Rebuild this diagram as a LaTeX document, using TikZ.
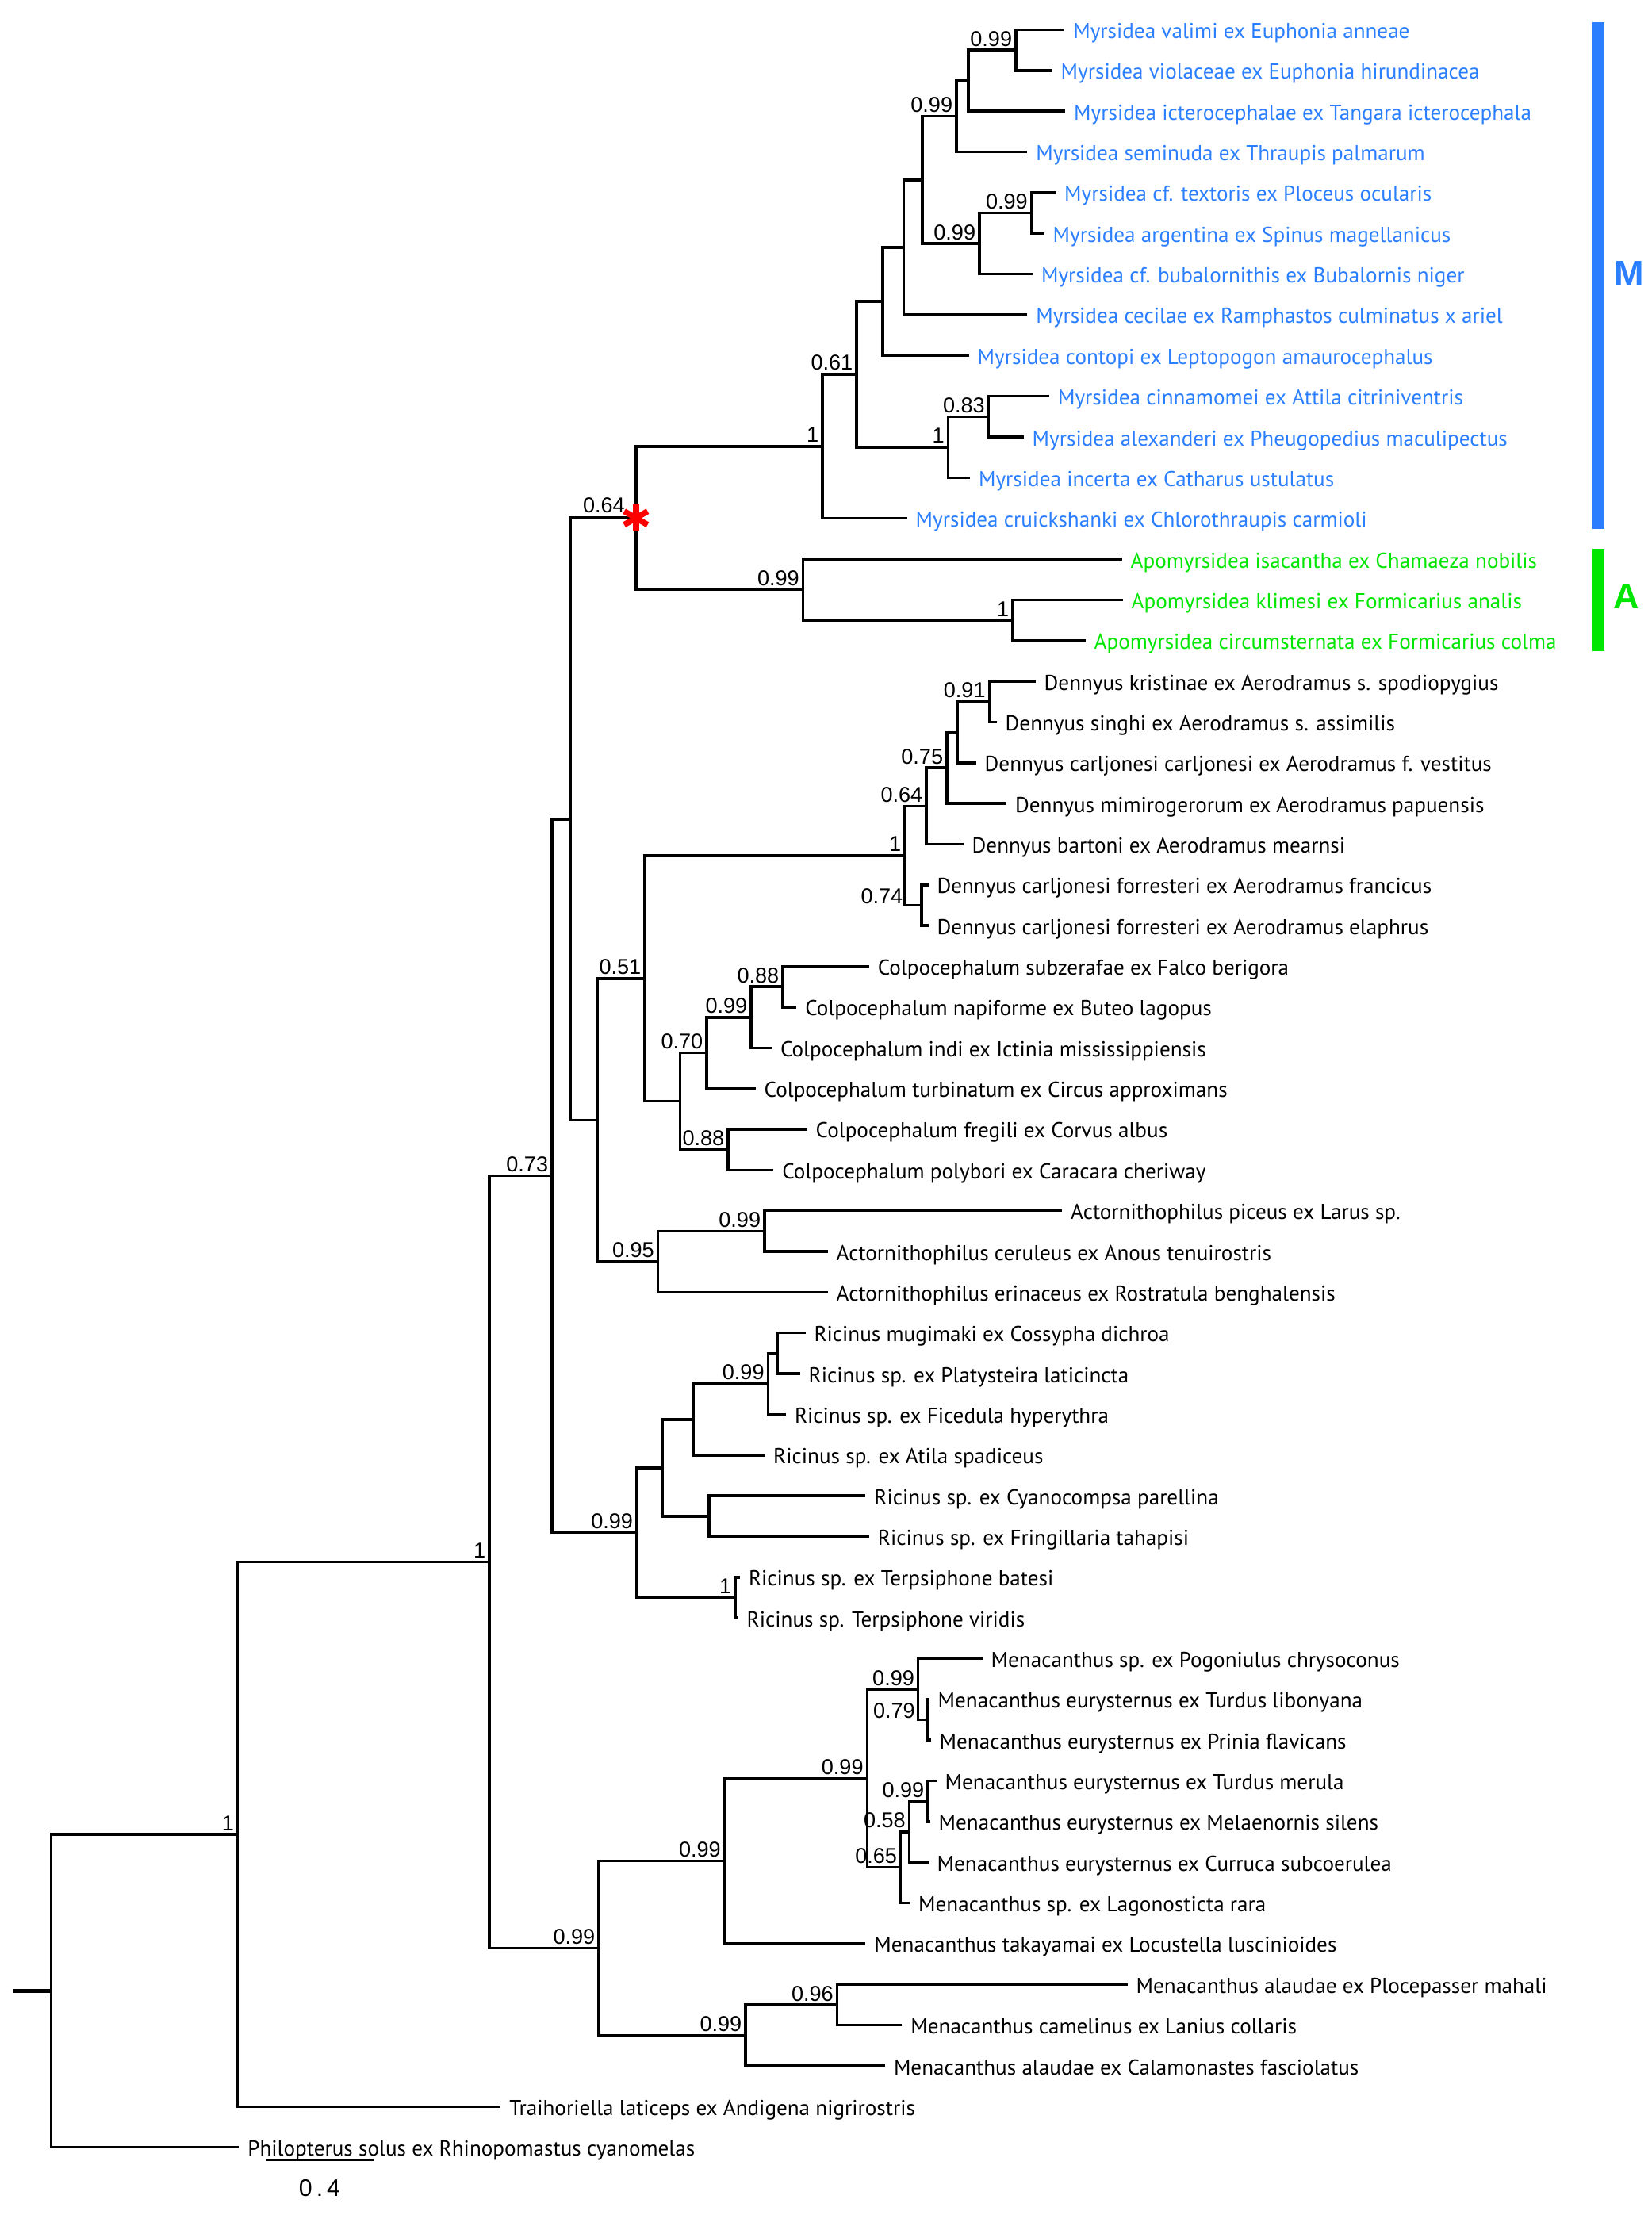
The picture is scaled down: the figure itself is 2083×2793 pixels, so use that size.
\documentclass[tikz,border=0pt]{standalone}
\usepackage{fontspec}
\setmainfont{PT Sans}
\newfontfamily\numfont{Liberation Sans}
\usetikzlibrary{calc}
\definecolor{mblue}{HTML}{2B7FFF}
\definecolor{agreen}{HTML}{00E600}
\tikzset{
 branch/.style={line width=1.0pt, line cap=rect, line join=miter},
 leaflab/.style={font=\fontsize{7.72}{8}\selectfont, anchor=base west, inner sep=0pt},
 supp/.style={font=\numfont\fontsize{7.7}{8}\selectfont, anchor=base east, inner sep=0pt},
 mcol/.style={text=mblue}, acol/.style={text=agreen},
 redstar/.style={red, line width=2.1pt},
 grouplab/.style={font=\numfont\bfseries\fontsize{12.8}{13}\selectfont},
}
\newcommand\tleaf[5][]{\coordinate (#2) at (#3,#4); \node[leaflab,#1] (#2lab) at ([shift={(12,11)}]#2) {#5};}
\newcommand\clade[3]{\draw[branch] (#2) -| (#1) |- (#3);}
\newcommand\bsup[2]{\node[supp] (s#1) at ([shift={(-4,-5)}]#1) {#2};}
\begin{document}
\begin{tikzpicture}[x=0.01cm,y=-0.01cm]
\useasboundingbox (0,0) rectangle (2083,2793);
% leaves
\tleaf[mcol]{l1}{1340.6}{37.5}{Myrsidea valimi ex Euphonia anneae}
\tleaf[mcol]{l2}{1325}{88.85}{Myrsidea violaceae ex Euphonia hirundinacea}
\tleaf[mcol]{l3}{1341.5}{140.2}{Myrsidea icterocephalae ex Tangara icterocephala}
\tleaf[mcol]{l4}{1293.7}{191.55}{Myrsidea seminuda ex Thraupis palmarum}
\tleaf[mcol]{l5}{1329.5}{242.9}{Myrsidea cf. textoris ex Ploceus ocularis}
\tleaf[mcol]{l6}{1315}{294.25}{Myrsidea argentina ex Spinus magellanicus}
\tleaf[mcol]{l7}{1300.4}{345.6}{Myrsidea cf. bubalornithis ex Bubalornis niger}
\tleaf[mcol]{l8}{1293.7}{396.95}{Myrsidea cecilae ex Ramphastos culminatus x ariel}
\tleaf[mcol]{l9}{1220}{448.3}{Myrsidea contopi ex Leptopogon amaurocephalus}
\tleaf[mcol]{l10}{1321.4}{499.65}{Myrsidea cinnamomei ex Attila citriniventris}
\tleaf[mcol]{l11}{1289}{551.0}{Myrsidea alexanderi ex Pheugopedius maculipectus}
\tleaf[mcol]{l12}{1221.4}{602.35}{Myrsidea incerta ex Catharus ustulatus}
\tleaf[mcol]{l13}{1142}{653.7}{Myrsidea cruickshanki ex Chlorothraupis carmioli}
\tleaf[acol]{l14}{1413}{705.05}{Apomyrsidea isacantha ex Chamaeza nobilis}
\tleaf[acol]{l15}{1414}{756.4}{Apomyrsidea klimesi ex Formicarius analis}
\tleaf[acol]{l16}{1367}{807.75}{Apomyrsidea circumsternata ex Formicarius colma}
\tleaf{l17}{1304}{859.1}{Dennyus kristinae ex Aerodramus s. spodiopygius}
\tleaf{l18}{1255}{910.45}{Dennyus singhi ex Aerodramus s. assimilis}
\tleaf{l19}{1229}{961.8}{Dennyus carljonesi carljonesi ex Aerodramus f. vestitus}
\tleaf{l20}{1267.4}{1013.15}{Dennyus mimirogerorum ex Aerodramus papuensis}
\tleaf{l21}{1213}{1064.5}{Dennyus bartoni ex Aerodramus mearnsi}
\tleaf{l22}{1168.8}{1115.85}{Dennyus carljonesi forresteri ex Aerodramus francicus}
\tleaf{l23}{1168.8}{1167.2}{Dennyus carljonesi forresteri ex Aerodramus elaphrus}
\tleaf{l24}{1094.2}{1218.55}{Colpocephalum subzerafae ex Falco berigora}
\tleaf{l25}{1002.7}{1269.9}{Colpocephalum napiforme ex Buteo lagopus}
\tleaf{l26}{971.4}{1321.25}{Colpocephalum indi ex Ictinia mississippiensis}
\tleaf{l27}{951}{1372.6}{Colpocephalum turbinatum ex Circus approximans}
\tleaf{l28}{1016}{1423.95}{Colpocephalum fregili ex Corvus albus}
\tleaf{l29}{973.7}{1475.3}{Colpocephalum polybori ex Caracara cheriway}
\tleaf{l30}{1337.5}{1526.65}{Actornithophilus piceus ex Larus sp.}
\tleaf{l31}{1042}{1578.0}{Actornithophilus ceruleus ex Anous tenuirostris}
\tleaf{l32}{1042}{1629.35}{Actornithophilus erinaceus ex Rostratula benghalensis}
\tleaf{l33}{1013.8}{1680.7}{Ricinus mugimaki ex Cossypha dichroa}
\tleaf{l34}{1007}{1732.05}{Ricinus sp. ex Platysteira laticincta}
\tleaf{l35}{989.3}{1783.4}{Ricinus sp. ex Ficedula hyperythra}
\tleaf{l36}{962.5}{1834.75}{Ricinus sp. ex Atila spadiceus}
\tleaf{l37}{1089.7}{1886.1}{Ricinus sp. ex Cyanocompsa parellina}
\tleaf{l38}{1094.2}{1937.45}{Ricinus sp. ex Fringillaria tahapisi}
\tleaf{l39}{931.3}{1988.8}{Ricinus sp. ex Terpsiphone batesi}
\tleaf{l40}{929}{2040.15}{Ricinus sp. Terpsiphone viridis}
\tleaf{l41}{1237}{2091.5}{Menacanthus sp. ex Pogoniulus chrysoconus}
\tleaf{l42}{1170}{2142.85}{Menacanthus eurysternus ex Turdus libonyana}
\tleaf{l43}{1172}{2194.2}{Menacanthus eurysternus ex Prinia flavicans}
\tleaf{l44}{1179}{2245.55}{Menacanthus eurysternus ex Turdus merula}
\tleaf{l45}{1171}{2296.9}{Menacanthus eurysternus ex Melaenornis silens}
\tleaf{l46}{1169}{2348.25}{Menacanthus eurysternus ex Curruca subcoerulea}
\tleaf{l47}{1145.5}{2399.6}{Menacanthus sp. ex Lagonosticta rara}
\tleaf{l48}{1089.7}{2450.95}{Menacanthus takayamai ex Locustella luscinioides}
\tleaf{l49}{1420}{2502.3}{Menacanthus alaudae ex Plocepasser mahali}
\tleaf{l50}{1135.7}{2553.65}{Menacanthus camelinus ex Lanius collaris}
\tleaf{l51}{1114.3}{2605.0}{Menacanthus alaudae ex Calamonastes fasciolatus}
\tleaf{l52}{629.7}{2656.35}{Traihoriella laticeps ex Andigena nigrirostris}
\tleaf{l53}{299.7}{2707.7}{Philopterus solus ex Rhinopomastus cyanomelas}
% internal nodes
\coordinate (n12) at (1280.8,63.18);
\coordinate (n123) at (1221,101.69);
\coordinate (nA) at (1205.8,146.62);
\coordinate (n56) at (1300.4,268.58);
\coordinate (nB) at (1234.8,307.09);
\coordinate (nC) at (1163,226.86);
\coordinate (nD) at (1139.7,311.9);
\coordinate (nE) at (1113,380.1);
\coordinate (n1011) at (1246.4,525.33);
\coordinate (nG) at (1195.5,563.84);
\coordinate (nF) at (1080,471.97);
\coordinate (nH) at (1037,562.84);
\coordinate (nJ) at (1277,782.08);
\coordinate (nI) at (1012.5,743.56);
\coordinate (nS) at (801.8,653.2);
\coordinate (n1718) at (1247.3,884.78);
\coordinate (nd2) at (1207,923.29);
\coordinate (nd3) at (1193.8,968.22);
\coordinate (nd4) at (1167.9,1016.36);
\coordinate (n2223) at (1162,1141.53);
\coordinate (nD1) at (1141,1078.94);
\coordinate (n2425) at (987,1244.23);
\coordinate (nc2) at (946.9,1282.74);
\coordinate (nc3) at (891,1327.67);
\coordinate (n2829) at (917.9,1449.63);
\coordinate (nCN) at (857.6,1388.65);
\coordinate (nL) at (813,1233.8);
\coordinate (n3031) at (963.8,1552.33);
\coordinate (nAN) at (829.5,1590.84);
\coordinate (nK) at (753.6,1412.32);
\coordinate (nT) at (719.2,1032.76);
\coordinate (n3334) at (980.4,1706.38);
\coordinate (nr2) at (968.3,1744.89);
\coordinate (nr3) at (874.6,1789.82);
\coordinate (n3738) at (894.2,1911.78);
\coordinate (nRA) at (835.7,1850.8);
\coordinate (n3940) at (926.8,2014.48);
\coordinate (nR) at (802.7,1932.64);
\coordinate (nV) at (695.8,1482.7);
\coordinate (n4243) at (1168.75,2168.53);
\coordinate (nM1) at (1157.6,2130.01);
\coordinate (n4445) at (1170,2271.23);
\coordinate (nm2) at (1146.4,2309.74);
\coordinate (nm3) at (1135.7,2354.67);
\coordinate (nM2) at (1093.3,2242.34);
\coordinate (nM3) at (913.4,2346.65);
\coordinate (n4950) at (1055.4,2527.98);
\coordinate (nM4) at (940,2566.49);
\coordinate (nX) at (754.9,2456.57);
\coordinate (nW) at (617,1969.64);
\coordinate (nY) at (299.7,2313);
\coordinate (nZ) at (64.3,2510.35);
\coordinate (root) at (15.5,2510.35);
% branches
\clade{n12}{l1}{l2}
\clade{n123}{n12}{l3}
\clade{nA}{n123}{l4}
\clade{n56}{l5}{l6}
\clade{nB}{n56}{l7}
\clade{nC}{nA}{nB}
\clade{nD}{nC}{l8}
\clade{nE}{nD}{l9}
\clade{n1011}{l10}{l11}
\clade{nG}{n1011}{l12}
\clade{nF}{nE}{nG}
\clade{nH}{nF}{l13}
\clade{nJ}{l15}{l16}
\clade{nI}{l14}{nJ}
\clade{nS}{nH}{nI}
\clade{n1718}{l17}{l18}
\clade{nd2}{n1718}{l19}
\clade{nd3}{nd2}{l20}
\clade{nd4}{nd3}{l21}
\clade{n2223}{l22}{l23}
\clade{nD1}{nd4}{n2223}
\clade{n2425}{l24}{l25}
\clade{nc2}{n2425}{l26}
\clade{nc3}{nc2}{l27}
\clade{n2829}{l28}{l29}
\clade{nCN}{nc3}{n2829}
\clade{nL}{nD1}{nCN}
\clade{n3031}{l30}{l31}
\clade{nAN}{n3031}{l32}
\clade{nK}{nL}{nAN}
\clade{nT}{nS}{nK}
\clade{n3334}{l33}{l34}
\clade{nr2}{n3334}{l35}
\clade{nr3}{nr2}{l36}
\clade{n3738}{l37}{l38}
\clade{nRA}{nr3}{n3738}
\clade{n3940}{l39}{l40}
\clade{nR}{nRA}{n3940}
\clade{nV}{nT}{nR}
\clade{n4243}{l42}{l43}
\clade{nM1}{l41}{n4243}
\clade{n4445}{l44}{l45}
\clade{nm2}{n4445}{l46}
\clade{nm3}{nm2}{l47}
\clade{nM2}{nM1}{nm3}
\clade{nM3}{nM2}{l48}
\clade{n4950}{l49}{l50}
\clade{nM4}{n4950}{l51}
\clade{nX}{nM3}{nM4}
\clade{nW}{nV}{nX}
\clade{nY}{nW}{l52}
\clade{nZ}{nY}{l53}
\draw[branch, line width=1.6pt, line cap=butt] (root) -- (nZ);
% support values
\bsup{n12}{0.99}
\bsup{nA}{0.99}
\bsup{n56}{0.99}
\bsup{nB}{0.99}
\bsup{nF}{0.61}
\bsup{nH}{1}
\bsup{n1011}{0.83}
\bsup{nG}{1}
\node[supp] (snS) at (788.4,646.7) {0.64};
\bsup{nI}{0.99}
\bsup{nJ}{1}
\bsup{n1718}{0.91}
\bsup{nd3}{0.75}
\bsup{nd4}{0.64}
\bsup{nD1}{1}
\node[supp] (sn2223) at (1139,1139.3) {0.74};
\bsup{nL}{0.51}
\bsup{n2425}{0.88}
\bsup{nc2}{0.99}
\bsup{nc3}{0.70}
\bsup{n2829}{0.88}
\bsup{n3031}{0.99}
\bsup{nAN}{0.95}
\bsup{nV}{0.73}
\bsup{nW}{1}
\bsup{nY}{1}
\bsup{nR}{0.99}
\bsup{nr2}{0.99}
\bsup{n3940}{1}
\bsup{nX}{0.99}
\bsup{nM3}{0.99}
\bsup{nM2}{0.99}
\bsup{nM1}{0.99}
\node[supp] (sn4243) at (1154.5,2166.7) {0.79};
\bsup{n4445}{0.99}
\bsup{nm2}{0.58}
\bsup{nm3}{0.65}
\bsup{n4950}{0.96}
\bsup{nM4}{0.99}
% red asterisk
\draw[redstar] ([shift={(90:17)}]nS) -- ([shift={(270:17)}]nS);
\draw[redstar] ([shift={(30:17)}]nS) -- ([shift={(210:17)}]nS);
\draw[redstar] ([shift={(150:17)}]nS) -- ([shift={(330:17)}]nS);
% group bars
\fill[mblue] (2006.7,28.2) rectangle (2023.3,666.7);
\fill[agreen] (2006.7,692) rectangle (2023.3,821);
\node[grouplab, text=mblue] (Mlab) at (2054.5,345) {M};
\node[grouplab, text=agreen] (Alab) at (2051,751.5) {A};
% scale bar
\coordinate (sb1) at (335.8,2723.3);
\coordinate (sb2) at (470.7,2723.3);
\draw[branch, line cap=butt] (sb1) -- (sb2);
\node[font=\numfont\fontsize{8.6}{9}\selectfont, inner sep=0pt] (sblab) at (403,2759.5) {0\,.\,4};
\end{tikzpicture}
\end{document}
